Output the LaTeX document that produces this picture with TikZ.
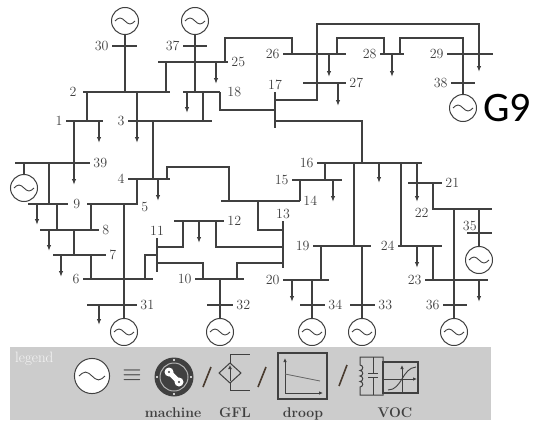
\documentclass[tikz,border=0pt]{standalone}
\usepackage{fontspec}
\newfontfamily\gnine{Carlito}
\usetikzlibrary{positioning, arrows.meta}
\definecolor{linecol}{HTML}{404040}
\definecolor{slashcol}{HTML}{4A3C30}
\tikzset{
  line/.style={draw=linecol, line width=1.2pt},
  load/.style={line, -{Latex[length=6pt, width=4.5pt]}},
  bus/.style={fill=linecol, inner sep=0pt, minimum height=1.6pt, minimum width=#1},
  vbus/.style={fill=linecol, inner sep=0pt, minimum width=1.6pt, minimum height=#1},
  num/.style={font=\fontsize{14}{14}\selectfont, text=linecol, inner sep=0pt},
  gen/.style={circle, draw=linecol, line width=1pt, minimum size=27pt, inner sep=0pt, fill=white,
    path picture={\draw[linecol, line width=0.9pt] ([xshift=-10pt]path picture bounding box.center)
      sin ++(5pt,3pt) cos ++(5pt,-3pt) sin ++(5pt,-3pt) cos ++(5pt,3pt);}},
  leglbl/.style={font=\fontsize{14}{14}\selectfont\bfseries, text=linecol, inner sep=0pt},
}

\begin{document}
\begin{tikzpicture}[x=1pt, y=-1pt]
  \useasboundingbox (0,0) rectangle (537,420);

  % buses
  \node[bus=25pt] (b30) at (124.5,46) {};
  \node[bus=24pt] (b37) at (195,46) {};
  \node[bus=70pt] (b25) at (193,62) {};
  \node[bus=87pt] (b2) at (126.5,92) {};
  \node[bus=37pt] (b18) at (201.5,92) {};
  \node[bus=37pt] (b1) at (84.5,121) {};
  \node[bus=84pt] (b3) at (170,121) {};
  \node[bus=75pt] (b39) at (52.5,163) {};
  \node[bus=42pt] (b4) at (149,179) {};
  \node[bus=40pt] (b9) at (48,204) {};
  \node[bus=51pt] (b5) at (112.5,204) {};
  \node[bus=59pt] (b8) at (69.5,230) {};
  \node[bus=53pt] (b7) at (79.5,255) {};
  \node[bus=70pt] (b6) at (118,279) {};
  \node[bus=50pt] (b31) at (112,305) {};
  \node[bus=50pt] (b12) at (199,221) {};
  \node[bus=49pt] (b10) at (219.5,279) {};
  \node[bus=26pt] (b32) at (220,305) {};
  \node[bus=79pt] (b14) at (260.5,201) {};
  \node[bus=50pt] (b15) at (317,180) {};
  \node[bus=105pt] (b16) at (369.5,163) {};
  \node[bus=58pt] (b19) at (342,246) {};
  \node[bus=46pt] (b20) at (306,280) {};
  \node[bus=25pt] (b34) at (312.5,305) {};
  \node[bus=25pt] (b33) at (362.5,305) {};
  \node[bus=44pt] (b24) at (420,246) {};
  \node[bus=34pt] (b21) at (425,183) {};
  \node[bus=60pt] (b22) at (462,209) {};
  \node[bus=63pt] (b23) at (456.5,280) {};
  \node[bus=25pt] (b35) at (479.5,233) {};
  \node[bus=24pt] (b36) at (455,305) {};
  \node[bus=63pt] (b26) at (314.5,54) {};
  \node[bus=43pt] (b27) at (324.5,83) {};
  \node[bus=24pt] (b28) at (392,54) {};
  \node[bus=46pt] (b29) at (470,54) {};
  \node[bus=24pt] (b38) at (463,83) {};
  \node[vbus=34pt] (b11) at (157,255) {};
  \node[vbus=47pt] (b13) at (283,244.5) {};
  \node[vbus=36pt] (b17) at (275,110) {};

  % bus numbers
  \node[num, left=3pt of b30] {30};
  \node[num, left=3pt of b37] {37};
  \node[num, right=3pt of b25] {25};
  \node[num, left=6pt of b2] {2};
  \node[num, right=7pt of b18] {18};
  \node[num, left=3pt of b1] {1};
  \node[num, left=3pt of b3] {3};
  \node[num, right=3pt of b39] {39};
  \node[num, left=3pt of b4] {4};
  \node[num, right=5pt of b9] {9};
  \node[num, right=3pt of b5, yshift=-3pt] {5};
  \node[num, right=3pt of b8] {8};
  \node[num, right=3pt of b7] {7};
  \node[num, left=3pt of b6] {6};
  \node[num, right=3pt of b31] {31};
  \node[num, right=3pt of b12] {12};
  \node[num, left=3pt of b10] {10};
  \node[num, right=3pt of b32] {32};
  \node[num, right=3pt of b14] {14};
  \node[num, left=3pt of b15] {15};
  \node[num, left=3pt of b16] {16};
  \node[num, left=3pt of b19] {19};
  \node[num, left=3pt of b20] {20};
  \node[num, right=3pt of b34] {34};
  \node[num, right=3pt of b33] {33};
  \node[num, left=3pt of b24] {24};
  \node[num, right=3pt of b21] {21};
  \node[num, left=3pt of b22, yshift=-4pt] {22};
  \node[num, left=3pt of b23] {23};
  \node[num, above=2pt of b35.west, xshift=3pt] {35};
  \node[num, left=3pt of b36] {36};
  \node[num, left=3pt of b26] {26};
  \node[num, right=3pt of b27] {27};
  \node[num, left=3pt of b28] {28};
  \node[num, left=3pt of b29] {29};
  \node[num, left=3pt of b38] {38};
  \node[num, above=2pt of b11] {11};
  \node[num, above=2pt of b13] {13};
  \node[num, above=2pt of b17] {17};

  % generators
  \node[gen] (g30) at (125,21) {};
  \node[gen] (g37) at (195,21) {};
  \node[gen] (g38) at (463,108) {};
  \node[gen] (g39) at (24,188) {};
  \node[gen] (g31) at (124,332) {};
  \node[gen] (g32) at (220,332) {};
  \node[gen] (g34) at (312,332) {};
  \node[gen] (g33) at (362,332) {};
  \node[gen] (g36) at (454,332) {};
  \node[gen] (g35) at (479,260) {};
  \node[font=\gnine\fontsize{42}{42}\selectfont, inner sep=0pt, right=6pt of g38] (g9) {G9};

  % lines and loads
  \draw[line] (g30) -- (g30 |- b2);
  \draw[line] (g37) -- (g37 |- b18);
  \draw[line] (b25 -| 166,0) -- (b2 -| 166,0);
  \draw[load] (b25 -| 216,0) -- ++(0,22);
  \draw[line] (b25 -| 225,0) |- (292,38) -- (b26 -| 292,0);
  \draw[line] (b2 -| 87,0) -- (b1 -| 87,0);
  \draw[line] (b2 -| 137,0) -- (b3 -| 137,0);
  \draw[load] (b3 -| 137,0) -- ++(0,22);
  \draw[load] (b1 -| 99,0) -- ++(0,22);
  \draw[line] (b1 -| 74,0) -- (b39 -| 74,0);
  \draw[load] (b39 -| 74,0) -- ++(0,22);
  \draw[load] (b18 -| 187,0) -- ++(0,21);
  \draw[line] (b18 -| 203,0) -- (b3 -| 203,0);
  \draw[line] (b18 -| 220,0) |- (b17);
  \draw[line] (b3 -| 153,0) -- (b4 -| 153,0);
  \draw[line] (b39 -| g39) -- (g39);
  \draw[line] (b39 -| 49,0) -- (b9 -| 49,0);
  \draw[load] (b9 -| 37,0) -- ++(0,21);
  \draw[line] (b9 -| 57,0) -- (b8 -| 57,0);
  \draw[load] (b8 -| 49,0) -- ++(0,21);
  \draw[line] (b8 -| 74,0) -- (b7 -| 74,0);
  \draw[line] (b8 -| 91,0) -- (b5 -| 91,0);
  \draw[load] (b7 -| 61,0) -- ++(0,22);
  \draw[line] (b7 -| 91,0) -- (b6 -| 91,0);
  \draw[line] (b4 -| 137,0) -- (b5 -| 137,0);
  \draw[load] (b4 -| 158,0) -- ++(0,22);
  \draw[line] (b4 -| 167,0) |- (229,167) -- (b14 -| 229,0);
  \draw[line] (b5 -| g31) -- (g31);
  \draw[line] (b6 -| 145,0) |- (b11);
  \draw[load] (b31 -| 99,0) -- ++(0,20);
  \draw[line] (b11 |- 0,247) -| (b12 -| 183,0);
  \draw[load] (b12 -| 199,0) -- ++(0,22);
  \draw[line] (b12 -| 216,0) |- (b13 |- 0,247);
  \draw[line] (b11 |- 0,263) -| (b10 -| 203,0);
  \draw[line] (b10 -| 237,0) |- (b13 |- 0,263);
  \draw[line] (b10 -| g32) -- (g32);
  \draw[line] (b14 -| 258,0) |- (b13 |- 0,230);
  \draw[line] (b14 -| 300,0) -- (b15 -| 300,0);
  \draw[load] (b15 -| 333,0) -- ++(0,22);
  \draw[line] (b15 -| 325,0) -- (b16 -| 325,0);
  \draw[line] (b17 |- 0,121) -| (b16 -| 362,0);
  \draw[load] (b17 |- 0,100) -| (317,24) -| (479,72);
  \draw[load] (b27 -| 338,0) -- ++(0,23);
  \draw[load] (b26 -| 329,0) -- ++(0,23);
  \draw[line] (b26 -| 337,0) |- (384,38) -- (b28 -| 384,0);
  \draw[load] (b28 -| 392,0) -- ++(0,23);
  \draw[line] (b28 -| 400,0) |- (463,38) -- (g38);
  \draw[line] (b16 -| 354,0) -- (b19 -| 354,0);
  \draw[load] (b16 -| 379,0) -- ++(0,20);
  \draw[line] (b16 -| 401,0) -- (b24 -| 401,0);
  \draw[load] (b16 -| 417,0) -- ++(0,39);
  \draw[line] (b21 -| 433,0) -- (b22 -| 433,0);
  \draw[line] (b22 -| g36) -- (g36);
  \draw[line] (b22 -| g35) -- (g35);
  \draw[line] (b19 -| g33) -- (g33);
  \draw[line] (b19 -| 321,0) -- (b20 -| 321,0);
  \draw[load] (b20 -| 292,0) -- ++(0,22);
  \draw[line] (b20 -| g34) -- (g34);
  \draw[load] (b24 -| 417,0) -- ++(0,22);
  \draw[line] (b24 -| 433,0) -- (b23 -| 433,0);
  \draw[load] (b23 -| 479,0) -- ++(0,22);

  % legend
  \fill[gray!40] (10,347) rectangle (491,420);
  \node[anchor=base west, text=gray!8, font=\fontsize{15}{15}\selectfont, inner sep=0pt] (legtitle) at (15,362) {legend};
  \node[gen, transform shape, scale=1.3] (lgen) at (92,376) {};
  \node[text=linecol, font=\fontsize{24}{24}\selectfont, inner sep=0pt] (lequiv) at (132,376) {$\equiv$};
  % machine
  \fill[black!75] (174,377) circle[radius=19.5pt];
  \draw[gray!60, line width=1pt] (174,377) circle[radius=14pt];
  \draw[white, line width=5pt, line cap=round] (169,372) -- (179,382);
  \fill[white] (169,372) circle[radius=4.5pt] (179,382) circle[radius=4.5pt];
  \fill[black!75] (169,372) circle[radius=1.2pt] (179,382) circle[radius=1.2pt];
  \foreach \a in {0,90,180,270}
    \fill[white] (174,377) ++(\a:17pt) circle[radius=1.1pt];
  \draw[slashcol, line width=1.6pt] (203,387) -- (211,367);
  % GFL
  \draw[linecol, line width=1pt] (230,363) -- (241,373) -- (230,383) -- (219,373) -- cycle;
  \draw[linecol, line width=1pt, -{Latex[length=4pt, width=4pt]}] (230,381) -- (230,365);
  \draw[linecol, line width=1pt] (230,363) |- (250,354);
  \draw[linecol, line width=1pt] (230,383) |- (250,390);
  \draw[slashcol, line width=1.6pt] (258,387) -- (266,367);
  % droop
  \draw[linecol, line width=1.2pt] (278,353) rectangle (327,399);
  \draw[linecol, line width=1pt, -{Latex[length=4pt, width=3.5pt]}] (285,393) -- (285,358);
  \draw[linecol, line width=1pt, -{Latex[length=4pt, width=3.5pt]}] (285,393) -- (323,393);
  \draw[linecol!80, line width=0.8pt] (285,374) -- (320,381);
  \draw[slashcol, line width=1.6pt] (339,386) -- (347,365);
  % VOC
  \draw[linecol, line width=1pt] (383,362) -- (383,357) -- (360,357) -- (360,365)
    arc[start angle=90, end angle=-90, radius=2.75pt]
    arc[start angle=90, end angle=-90, radius=2.75pt]
    arc[start angle=90, end angle=-90, radius=2.75pt]
    arc[start angle=90, end angle=-90, radius=2.75pt]
    -- (360,395) -- (383,395) -- (383,393);
  \draw[linecol, line width=1pt] (373,357) -- (373,373) (368,373) -- (378,373)
    (368,377) -- (378,377) (373,377) -- (373,395);
  \draw[linecol, line width=1.2pt] (383,362) rectangle (418,393);
  \draw[linecol, line width=0.9pt, -{Latex[length=4pt, width=3.5pt]}] (402,392) -- (402,365);
  \draw[linecol, line width=0.9pt, -{Latex[length=4pt, width=3.5pt]}] (384,379) -- (417,379);
  \draw[linecol, line width=0.9pt] (388,390) .. controls (402,390) and (402,368) .. (416,367);
  \node[leglbl, anchor=base] (lmach) at (173,417) {machine};
  \node[leglbl, anchor=base] (lgfl) at (235,417) {GFL};
  \node[leglbl, anchor=base] (ldroop) at (303,417) {droop};
  \node[leglbl, anchor=base] (lvoc) at (395,417) {VOC};
\end{tikzpicture}
\end{document}
